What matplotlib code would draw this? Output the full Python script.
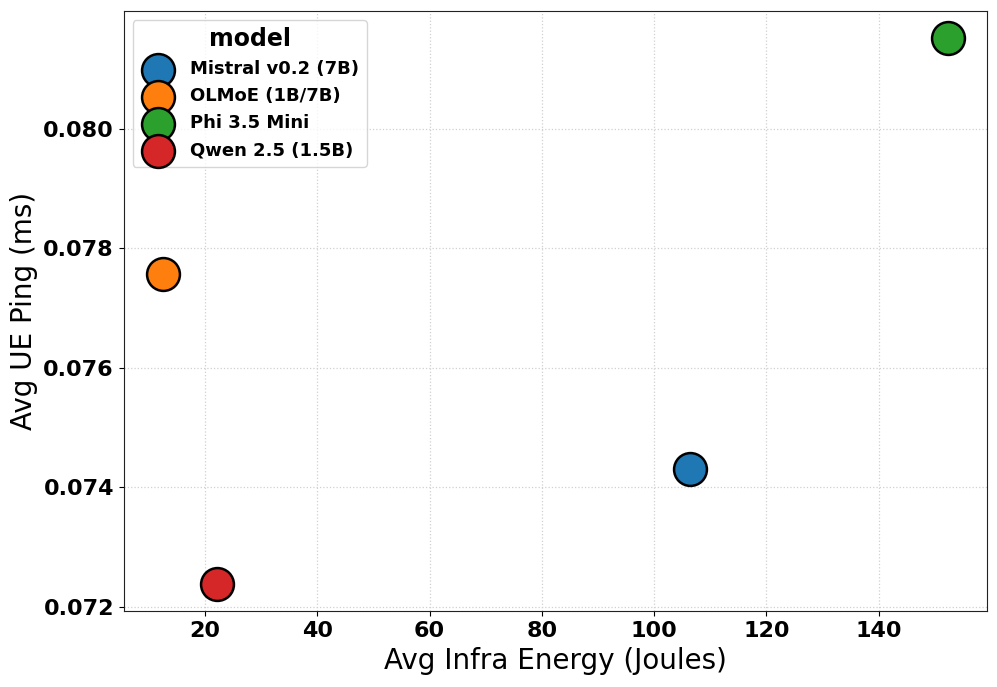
import matplotlib.pyplot as plt

# Values
models = ['Mistral v0.2 (7B)', 'OLMoE (1B/7B)', 'Phi 3.5 Mini', 'Qwen 2.5 (1.5B)']
energy = [106.3, 12.5, 152.3, 22.2]
ping = [0.07430, 0.07757, 0.08151, 0.07238]
colors = ['#1f77b4', '#ff7f0e', '#2ca02c', '#d62728']

fig, ax = plt.subplots(figsize=(9.97, 6.87), dpi=100)

for m, x, y, c in zip(models, energy, ping, colors):
    ax.scatter(x, y, s=560, color=c, edgecolor='black', linewidth=1.8, label=m, zorder=3)

ax.set_xlabel('Avg Infra Energy (Joules)', fontsize=20)
ax.set_ylabel('Avg UE Ping (ms)', fontsize=20)
ax.grid(True, linestyle=':', color='#d0d0d0', linewidth=0.9)
ax.set_axisbelow(True)

for lab in ax.get_xticklabels() + ax.get_yticklabels():
    lab.set_fontweight('bold')
ax.tick_params(axis='both', labelsize=16)
for s in ax.spines.values():
    s.set_color('#222222')

leg = ax.legend(title='model', loc='upper left', prop={'weight': 'bold', 'size': 13},
                title_fontproperties={'weight': 'bold', 'size': 17},
                handletextpad=0.8, borderpad=0.4)

plt.subplots_adjust(left=0.124, right=0.99, top=0.984, bottom=0.11)
plt.savefig('out.png')
